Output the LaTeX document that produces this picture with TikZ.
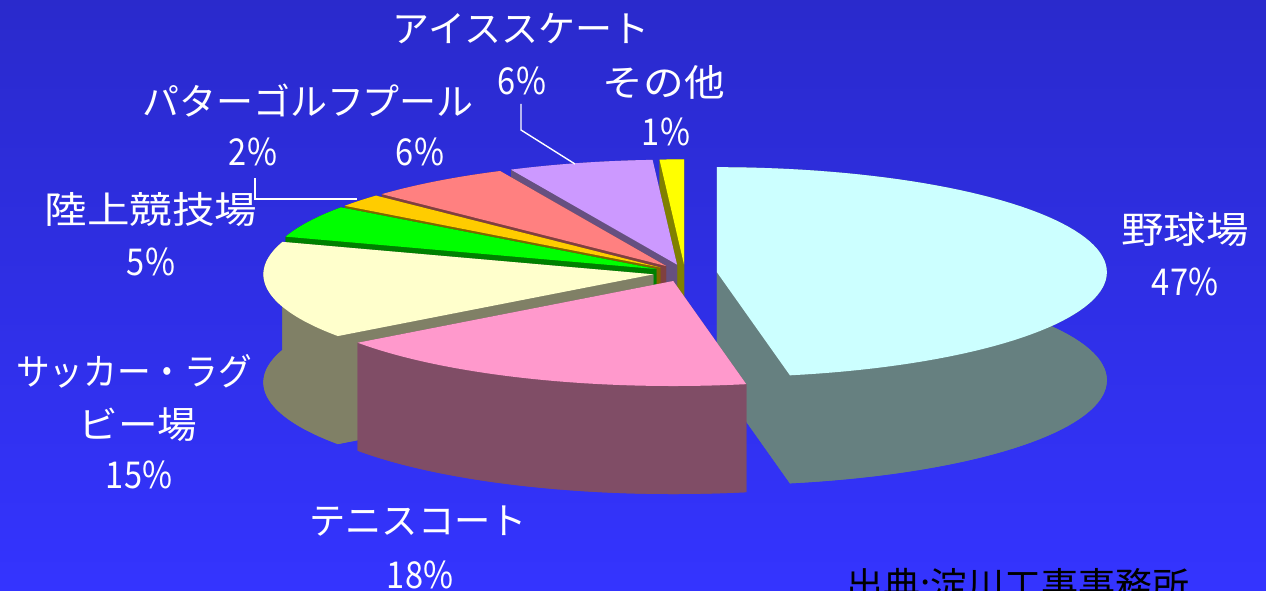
\documentclass[tikz,border=0pt]{standalone}
\usepackage{fontspec}
\newfontfamily\jp{Noto Sans CJK JP}
\usepackage{graphicx}
\definecolor{bgtop}{HTML}{2A2ACC}
\definecolor{bgbot}{HTML}{3434FF}
\definecolor{yeltop}{HTML}{FFFF00}\definecolor{yelside}{HTML}{808000}
\definecolor{lavtop}{HTML}{CC99FF}\definecolor{lavside}{HTML}{665080}
\definecolor{saltop}{HTML}{FF8080}\definecolor{salside}{HTML}{804040}
\definecolor{orgtop}{HTML}{FFCC00}\definecolor{orgside}{HTML}{806600}
\definecolor{grntop}{HTML}{00FF00}\definecolor{grnside}{HTML}{008000}
\definecolor{cyatop}{HTML}{CCFFFF}\definecolor{cyaside}{HTML}{668080}
\definecolor{cretop}{HTML}{FFFFCC}\definecolor{creside}{HTML}{808066}
\definecolor{pnktop}{HTML}{FF99CC}\definecolor{pnkside}{HTML}{804D66}
\def\pcx{685}\def\pcy{273}\def\prx{390}\def\pry{105}\def\ph{108}\def\pex{32}
% #1 start angle, #2 end angle, #3 top colour, #4 side colour
\newcommand\pieslice[4]{%
  \pgfmathsetmacro\pmid{(#1+#2)/2}%
  \pgfmathsetmacro\pox{\pcx+\pex*cos(\pmid)}%
  \pgfmathsetmacro\poy{\pcy-\pex*\pry/\prx*sin(\pmid)}%
  \fill[#4] (\pox,\poy+\ph) -- plot[domain=#1:#2,samples=80] ({\pox+\prx*cos(\x)},{\poy+\ph-\pry*sin(\x)}) -- cycle;
  \fill[#4] (\pox,\poy) -- ({\pox+\prx*cos(#1)},{\poy-\pry*sin(#1)}) -- ++(0,\ph) -- (\pox,\poy+\ph) -- cycle;
  \fill[#4] (\pox,\poy) -- ({\pox+\prx*cos(#2)},{\poy-\pry*sin(#2)}) -- ++(0,\ph) -- (\pox,\poy+\ph) -- cycle;
  \fill[#4] plot[domain=#1:#2,samples=80] ({\pox+\prx*cos(\x)},{\poy-\pry*sin(\x)}) -- plot[domain=#2:#1,samples=80] ({\pox+\prx*cos(\x)},{\poy+\ph-\pry*sin(\x)}) -- cycle;
  \fill[#3] (\pox,\poy) -- plot[domain=#1:#2,samples=80] ({\pox+\prx*cos(\x)},{\poy-\pry*sin(\x)}) -- cycle;
}
\tikzset{
  lbl/.style={text=white, inner sep=0pt, font=\jp\fontsize{37}{40}\selectfont},
  src/.style={text=black, inner sep=0pt, font=\jp\fontsize{37}{40}\selectfont},
  leader/.style={draw=white, line width=1.4pt}
}
\begin{document}
\begin{tikzpicture}[x=1pt,y=-1pt]
\useasboundingbox (0,0) rectangle (1266,591);
\fill[top color=bgtop, bottom color=bgbot] (0,0) rectangle (1266,591);
% pie slices, back to front
\pieslice{90}{93.6}{yeltop}{yelside}
\pieslice{93.6}{115.2}{lavtop}{lavside}
\pieslice{115.2}{136.8}{saltop}{salside}
\pieslice{136.8}{144}{orgtop}{orgside}
\pieslice{144}{162}{grntop}{grnside}
\pieslice{-79.2}{90}{cyatop}{cyaside}
\pieslice{162}{216}{cretop}{creside}
\pieslice{216}{280.8}{pnktop}{pnkside}
% labels
\node[lbl] (yakyu) at (1185,229) {\scalebox{1.15}[1]{野球場}};
\node[lbl] (yakyup) at (1185,282) {\scalebox{0.88}[1]{47\%}};
\node[lbl] (tennis) at (418,521) {\scalebox{0.98}[1]{テニスコート}};
\node[lbl] (tennisp) at (420,575) {\scalebox{0.88}[1]{18\%}};
\node[lbl] (soccer1) at (134,371) {\scalebox{0.91}[1]{サッカー・ラグ}};
\node[lbl] (soccer2) at (138,425) {\scalebox{1.07}[1]{ビー場}};
\node[lbl] (soccerp) at (139,475) {\scalebox{0.88}[1]{15\%}};
\node[lbl] (rikujo) at (151,210) {\scalebox{1.15}[1]{陸上競技場}};
\node[lbl] (rikujop) at (151,262) {\scalebox{0.88}[1]{5\%}};
\node[lbl] (golf) at (253,101) {パターゴルフ};
\node[lbl] (golfp) at (253,152) {\scalebox{0.88}[1]{2\%}};
\node[lbl] (pool) at (418,101) {プール};
\node[lbl] (poolp) at (420,152) {\scalebox{0.88}[1]{6\%}};
\node[lbl] (ice) at (521,29) {アイススケート};
\node[lbl] (icep) at (522,81) {\scalebox{0.88}[1]{6\%}};
\node[lbl] (other) at (664,82) {\scalebox{1.1}[1]{その他}};
\node[lbl] (otherp) at (666,132) {\scalebox{0.88}[1]{1\%}};
\node[src, anchor=north west] (source) at (846,568) {出典:淀川工事事務所};
% leader lines
\coordinate (icea) at (521,104);
\coordinate (iceb) at (521,130);
\coordinate (icec) at (575,164);
\draw[leader] (icea) -- (iceb) -- (icec);
\coordinate (golfa) at (255,178);
\coordinate (golfb) at (255,199);
\coordinate (golfc) at (357,199);
\draw[leader] (golfa) -- (golfb) -- (golfc);
\end{tikzpicture}
\end{document}
